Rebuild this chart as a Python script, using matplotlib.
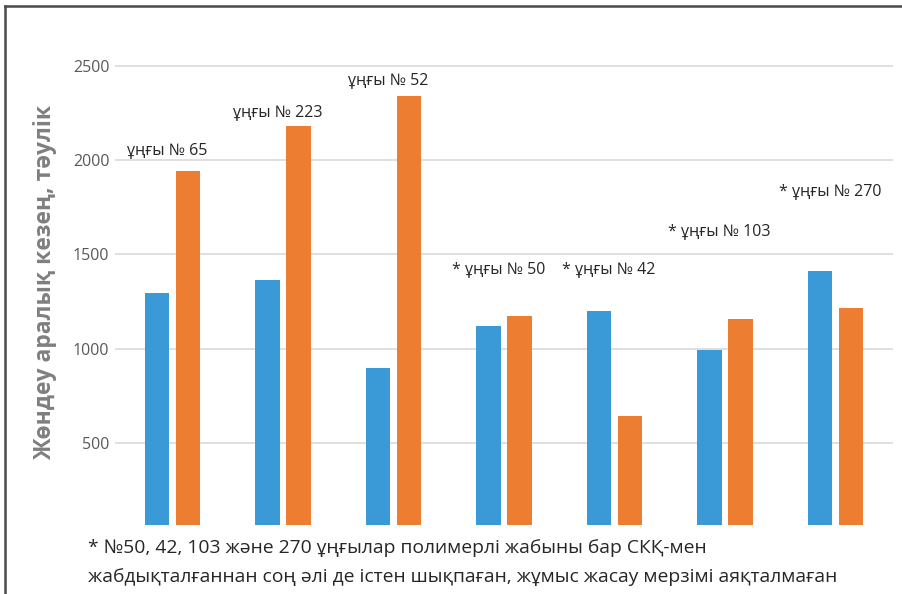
import matplotlib.pyplot as plt
from matplotlib.lines import Line2D
import numpy as np

plt.rcParams['font.family'] = ['Open Sans', 'Noto Sans', 'DejaVu Sans']

# Data (days between repairs)
wells = ["65", "223", "52", "50", "42", "103", "270"]
before = [1293, 1362, 895, 1118, 1199, 995, 1412]
after = [1940, 2182, 2340, 1175, 643, 1159, 1217]
label_y = [2048, 2250, 2420, 1415, 1415, 1617, 1830]
starred = [False, False, False, True, True, True, True]
yticks = [500, 1000, 1500, 2000, 2500]

blue = "#3A9AD8"
orange = "#ED7D31"

fig = plt.figure(figsize=(9.03, 5.94), dpi=100)
ax = fig.add_axes([115/903, 1 - 525/594, 778/903, 495/594])

x = np.arange(len(wells))
w = 0.225
ax.bar(x - 0.14, before, w, color=blue, zorder=2)
ax.bar(x + 0.14, after, w, color=orange, zorder=2)

for i, name in enumerate(wells):
    txt = "ұңғы № " + name
    if starred[i]:
        txt = "* " + txt
    ax.text(x[i] - 0.05, label_y[i], txt, ha="center", va="center",
            fontsize=11.5, color="#262626")

ax.set_xlim(-0.52, len(wells) - 0.48)
ax.set_ylim(64, 2690)
ax.set_yticks(yticks)
ax.set_xticks([])
ax.grid(axis="y", color="#d9d9d9", linewidth=1.2, zorder=0)
for s in ax.spines.values():
    s.set_visible(False)
ax.tick_params(axis="y", length=0, pad=4, labelsize=11.5, labelcolor="#595959")

fig.text(45/903, 0.525, "Жөндеу аралық кезең, тәулік", rotation=90,
         ha="center", va="center", fontsize=16.5, fontweight="bold", color="#7f7f7f")

fig.text(88/903, 1 - 548/594, "* №50, 42, 103 және 270 ұңғылар полимерлі жабыны бар СКҚ-мен",
         ha="left", va="center", fontsize=13.9, color="#262626")
fig.text(88/903, 1 - 577/594,
         "жабдықталғаннан соң әлі де істен шықпаған, жұмыс жасау мерзімі аяқталмаған",
         ha="left", va="center", fontsize=13.9, color="#262626")

# frame around the picture (top and left edges)
fig.add_artist(Line2D([5/903, 1], [1 - 6/594, 1 - 6/594], color="#4a4a4a", linewidth=1.8))
fig.add_artist(Line2D([5/903, 5/903], [0, 1 - 6/594], color="#4a4a4a", linewidth=1.8))

fig.savefig("out.png", dpi=100)
